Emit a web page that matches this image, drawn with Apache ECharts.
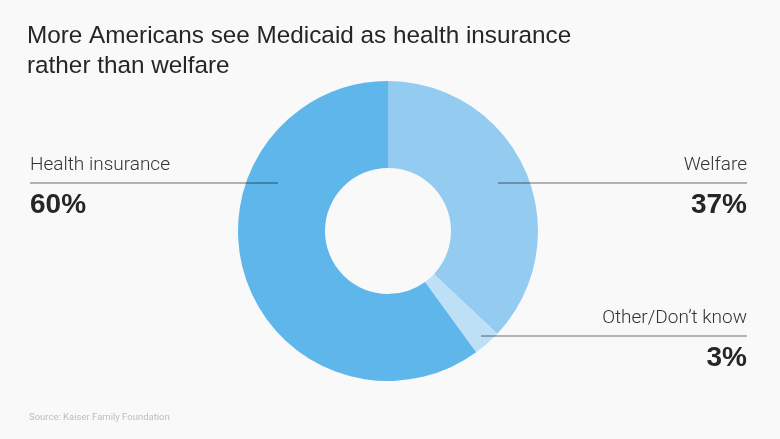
<!DOCTYPE html>
<html>
<head>
<meta charset="utf-8">
<script src="https://cdn.jsdelivr.net/npm/echarts@6/dist/echarts.min.js"></script>
<style>
html,body{margin:0;padding:0;background:#f9f9f9;}
#c{width:780px;height:439px;}
</style>
</head>
<body>
<div id="c"></div>
<script>
var categories = ['Welfare', 'Other/Don\u2019t know', 'Health insurance'];
var values = [37, 3, 60];
var colors = ['#93cbf1', '#bee0f6', '#5fb6eb'];
var titleLines = ['More Americans see Medicaid as health insurance', 'rather than welfare'];
var sourceText = 'Source: Kaiser Family Foundation';

var chart = echarts.init(document.getElementById('c'), null, {renderer: 'canvas'});

var lineStyle = {stroke: 'rgba(0,0,0,0.38)', lineWidth: 1.3};
var labelFont = 'Roboto, "Liberation Sans", sans-serif';
var titleFont = '"Liberation Sans", Arial, sans-serif';

function annot(idx, x1, x2, y, align) {
  var tx = align === 'left' ? x1 : x2;
  return [
    {type: 'line', z: 10, shape: {x1: x1, y1: y, x2: x2, y2: y}, style: lineStyle},
    {type: 'text', z: 10, x: tx, y: y - 8, style: {text: categories[idx], fill: '#333', font: '300 19px ' + labelFont, textAlign: align, textVerticalAlign: 'bottom'}},
    {type: 'text', z: 10, x: tx, y: y + 8, style: {text: values[idx] + '%', fill: '#262626', font: 'bold 28px ' + titleFont, textAlign: align, textVerticalAlign: 'top'}}
  ];
}

var graphics = [
  {type: 'text', left: 27, top: 21, style: {text: titleLines.join('\n'), fill: '#262626', font: '24.3px ' + titleFont, lineHeight: 30}},
  {type: 'text', left: 29, top: 413, style: {text: sourceText, fill: '#bdbdbd', font: '9.5px ' + labelFont}}
].concat(annot(2, 30, 278, 183, 'left'))
 .concat(annot(0, 498, 747, 183, 'right'))
 .concat(annot(1, 481, 747, 336, 'right'));

chart.setOption({
  backgroundColor: '#f9f9f9',
  animation: false,
  graphic: graphics,
  series: [{
    type: 'pie',
    center: [388, 231],
    radius: [63, 150],
    startAngle: 90,
    clockwise: true,
    silent: true,
    label: {show: false},
    labelLine: {show: false},
    itemStyle: {borderWidth: 0},
    data: categories.map(function (c, i) {
      return {name: c, value: values[i], itemStyle: {color: colors[i]}};
    })
  }]
});
</script>
</body>
</html>
